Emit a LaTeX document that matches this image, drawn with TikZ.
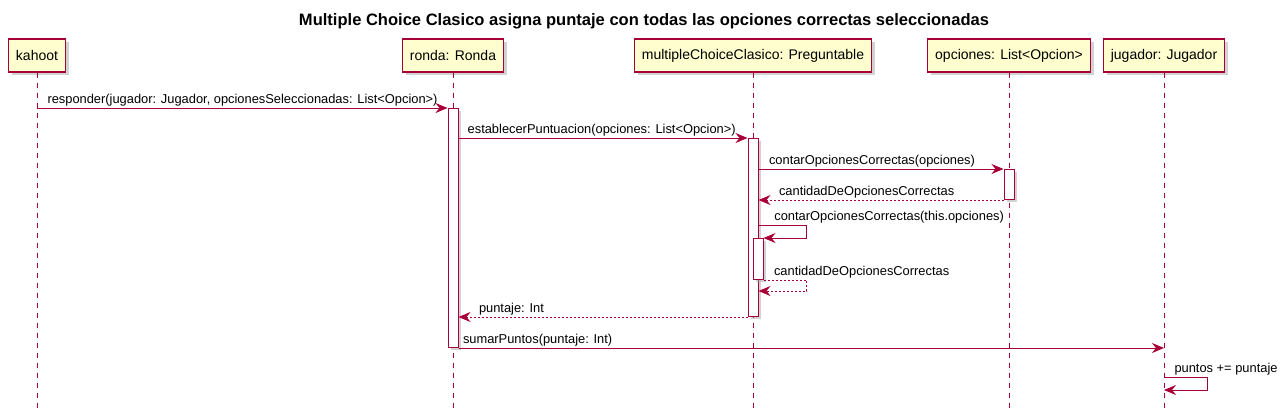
\documentclass[tikz,border=0pt]{standalone}
\usepackage{fontspec}
\setmainfont{Liberation Sans}
\usetikzlibrary{arrows.meta,shadows}
\definecolor{umlred}{HTML}{A80036}
\definecolor{umlfill}{HTML}{FEFECE}

\tikzset{
  part/.style={draw=umlred, fill=umlfill, line width=1.1pt, minimum height=24.75pt,
    inner xsep=5.6pt, font=\fontsize{10.5}{12}\selectfont,
    drop shadow={shadow xshift=2.5pt, shadow yshift=-2.5pt, fill=black!35}},
  life/.style={umlred, line width=0.75pt, dash pattern=on 3.75pt off 3.75pt},
  bar/.style={draw=umlred, fill=white, line width=0.75pt, minimum width=7.5pt, inner sep=0pt,
    anchor=north, drop shadow={shadow xshift=2pt, shadow yshift=-2pt, fill=black!35}},
  msg/.style={umlred, line width=0.75pt, -{Stealth[length=9pt, width=7.5pt, inset=3pt]}},
  ret/.style={msg, dash pattern=on 1.5pt off 1.5pt},
  lbl/.style={anchor=south west, inner sep=1pt, text=black, font=\fontsize{9.65}{11}\selectfont}
}

\begin{document}
\begin{tikzpicture}[x=0.75pt, y=-0.75pt]
\useasboundingbox (0,0) rectangle (1288,419);

\node[font=\bfseries\fontsize{12.4}{14}\selectfont] (title) at (644,21.5)
  {Multiple Choice Clasico asigna puntaje con todas las opciones correctas seleccionadas};

% participants
\node[part] (kahoot) at (37,55.5) {kahoot};
\node[part] (ronda) at (453,55.5) {ronda: Ronda};
\node[part] (preg) at (753,55.5) {multipleChoiceClasico: Preguntable};
\node[part] (opciones) at (1009,55.5) {opciones: List<Opcion>};
\node[part] (jugador) at (1164,55.5) {jugador: Jugador};

\foreach \p in {kahoot,ronda,preg,opciones,jugador}
  \draw[life] (\p.south) -- (\p.south |- 0,408);

% activations
\node[bar, minimum height=179.25pt] (rondaAct) at (ronda.south |- 0,108) {};
\node[bar, minimum height=133.5pt] (pregAct) at (preg.south |- 0,138) {};
\node[bar, minimum height=22.5pt] (opcAct) at (opciones.south |- 0,169) {};
\node[bar, minimum height=30.75pt] (pregAct2) at (758,238) {};

% messages
\draw[msg] (kahoot.south |- rondaAct.north) node[lbl, xshift=6.5pt]
  {responder(jugador: Jugador, opcionesSeleccionadas: List<Opcion>)} -- (rondaAct.north west);
\draw[msg] (rondaAct.east |- pregAct.north) node[lbl, xshift=5.5pt]
  {establecerPuntuacion(opciones: List<Opcion>)} -- (pregAct.north west);
\draw[msg] (pregAct.east |- opcAct.north) node[lbl, xshift=6.5pt]
  {contarOpcionesCorrectas(opciones)} -- (opcAct.north west);
\draw[ret] (opcAct.south west) -- (pregAct.east |- opcAct.south)
  node[lbl, xshift=14pt] {cantidadDeOpcionesCorrectas};
\draw[msg] (pregAct.east |- 0,225) node[lbl, xshift=10.5pt]
  {contarOpcionesCorrectas(this.opciones)} -- ++(48,0) |- (pregAct2.north east);
\draw[ret] (pregAct2.south east) node[lbl, xshift=6.5pt]
  {cantidadDeOpcionesCorrectas} -- ++(43,0) |- (pregAct.east |- 0,291);
\draw[ret] (pregAct.south west) -- (rondaAct.east |- pregAct.south)
  node[lbl, xshift=14pt] {puntaje: Int};
\draw[msg] (rondaAct.south east) node[lbl, xshift=2pt]
  {sumarPuntos(puntaje: Int)} -- (jugador.south |- rondaAct.south);
\draw[msg] (jugador.south |- 0,377) node[lbl, xshift=6.5pt]
  {puntos += puntaje} -- ++(43,0) |- (jugador.south |- 0,390);

\end{tikzpicture}
\end{document}
